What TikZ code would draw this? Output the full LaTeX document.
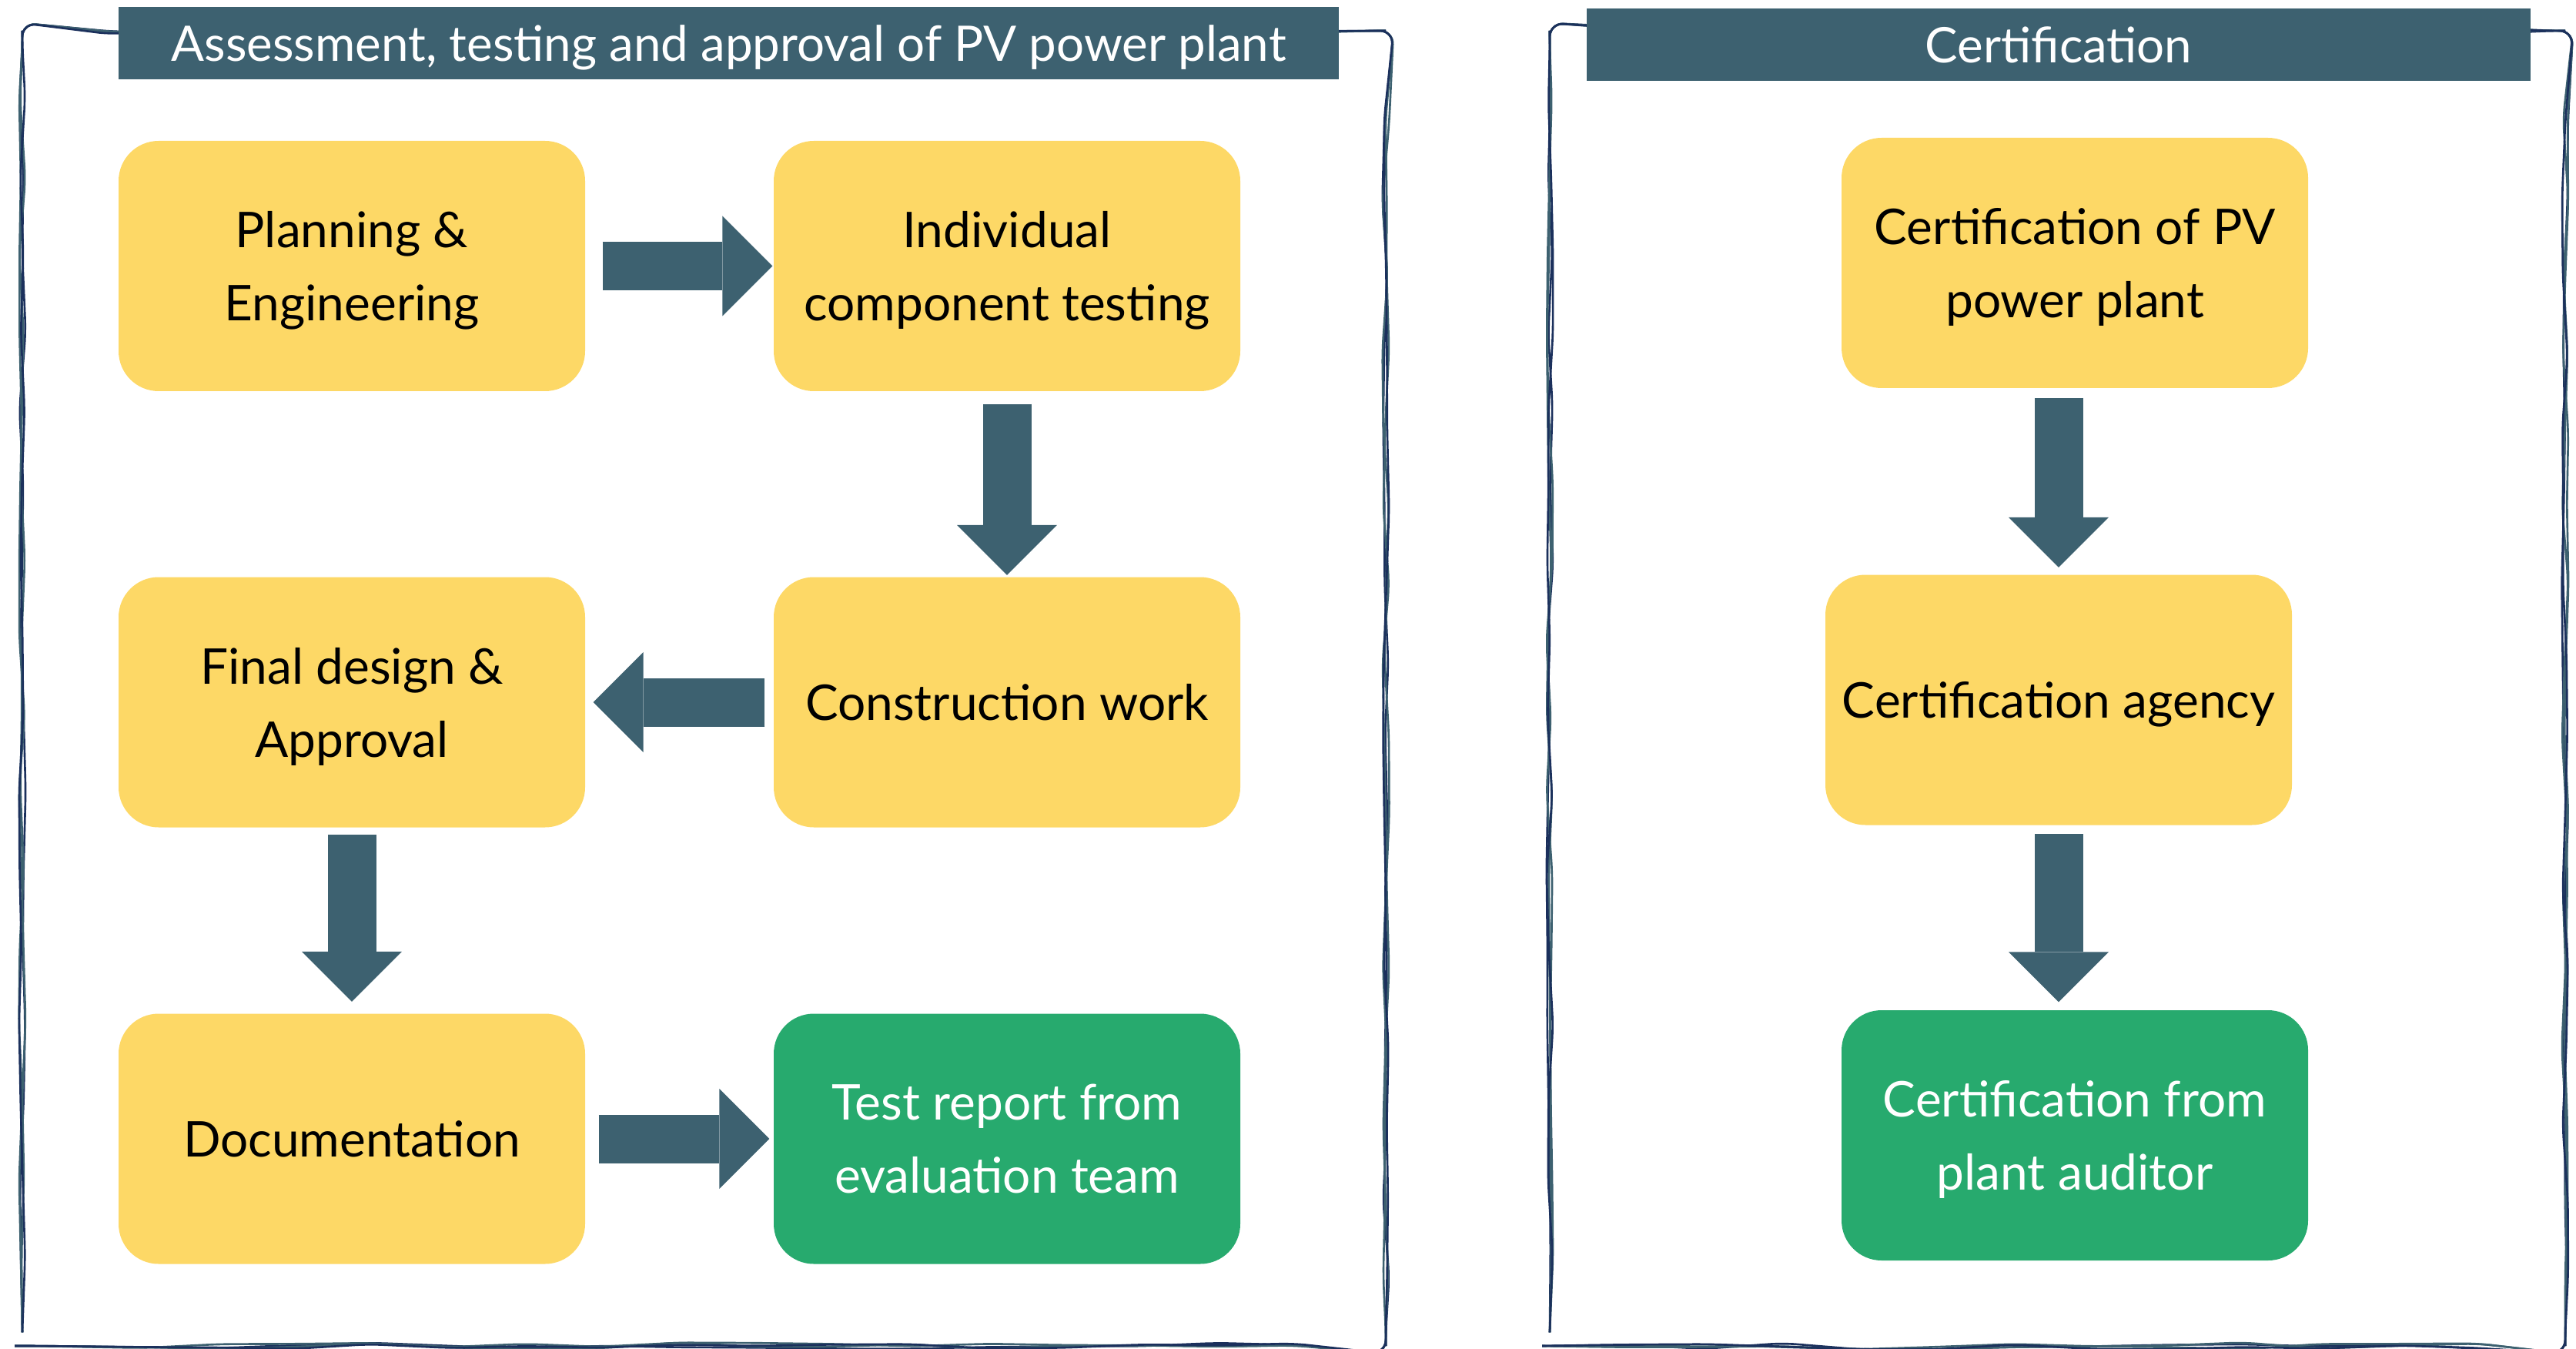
\documentclass[tikz,border=0pt]{standalone}
\usepackage{fontspec}
\setmainfont{Lato}
\usepackage{tikz}
\usetikzlibrary{arrows.meta,positioning,decorations.pathmorphing}
\definecolor{slate}{RGB}{61,97,112}
\definecolor{ink}{RGB}{27,48,92}
\definecolor{sun}{RGB}{253,216,102}
\definecolor{leaf}{RGB}{39,170,110}
\tikzset{
  stage/.style={fill=sun,rounded corners=5.2mm,align=center,minimum width=60.6mm,minimum height=32.5mm,inner sep=0pt,text depth=0pt,font=\fontsize{18.2}{27}\selectfont},
  result/.style={stage,fill=leaf,text=white},
  banner/.style={fill=slate,text=white,minimum height=9.4mm,inner sep=0pt,text depth=0pt,font=\fontsize{18.1}{22}\selectfont},
  flow/.style={draw=slate,line width=6.3mm,-{Triangle[length=6.5mm,width=13mm,line width=0pt]},shorten >=0.8mm,shorten <=1.3mm},
  sketch/.style={draw=#1,line width=0.75pt,rounded corners=5pt,decorate,decoration={random steps,segment length=10mm,amplitude=0.45mm}}
}

\begin{document}
\begin{tikzpicture}
\useasboundingbox (0,0) rectangle (33.46,17.51);
% hand drawn frames
\foreach \c/\s in {ink/3,slate/7,slate/12,ink/21} {
  \pgfmathsetseed{\s}
  \draw[sketch=\c] (0.29,0.03) rectangle (18.00,17.11);
  \draw[sketch=\c] (20.13,0.03) rectangle (33.32,17.11);
}
\node[banner,minimum width=158.5mm] (hdA) at (9.465,16.95) {Assessment, testing and approval of PV power plant};
\node[banner,minimum width=122.6mm] (hdB) at (26.74,16.93) {Certification};
% assessment
\node[stage] (plan) at (4.57,14.055) {Planning \&\\Engineering};
\node[stage] (indiv) at (13.08,14.055) {Individual\\component testing};
\node[stage] (final) at (4.57,8.39) {Final design \&\\Approval};
\node[stage] (constr) at (13.08,8.39) {Construction work};
\node[stage] (docu) at (4.57,2.72) {Documentation};
\node[result] (report) at (13.08,2.72) {Test report from\\evaluation team};
% certification
\node[stage] (cpv) at (26.95,14.095) {Certification of PV\\power plant};
\node[stage] (agency) at (26.74,8.42) {Certification agency};
\node[result] (audit) at (26.95,2.765) {Certification from\\plant auditor};
\draw[flow,shorten <=2.2mm,shorten >=0.1mm] (plan.east) -- (indiv.west);
\draw[flow,shorten <=1.6mm,shorten >=0.2mm] (indiv.south) -- (constr.north);
\draw[flow,shorten <=1.1mm,shorten >=1mm] (constr.west) -- (final.east);
\draw[flow,shorten <=0.9mm,shorten >=1.5mm] (final.south) -- (docu.north);
\draw[flow,shorten <=1.7mm,shorten >=0.5mm] (docu.east) -- (report.west);
\draw[flow,shorten <=1.2mm,shorten >=0.9mm] (cpv.south -| agency.north) -- (agency.north);
\draw[flow,shorten <=1.1mm,shorten >=1mm] (agency.south) -- (audit.north -| agency.south);
\end{tikzpicture}
\end{document}
